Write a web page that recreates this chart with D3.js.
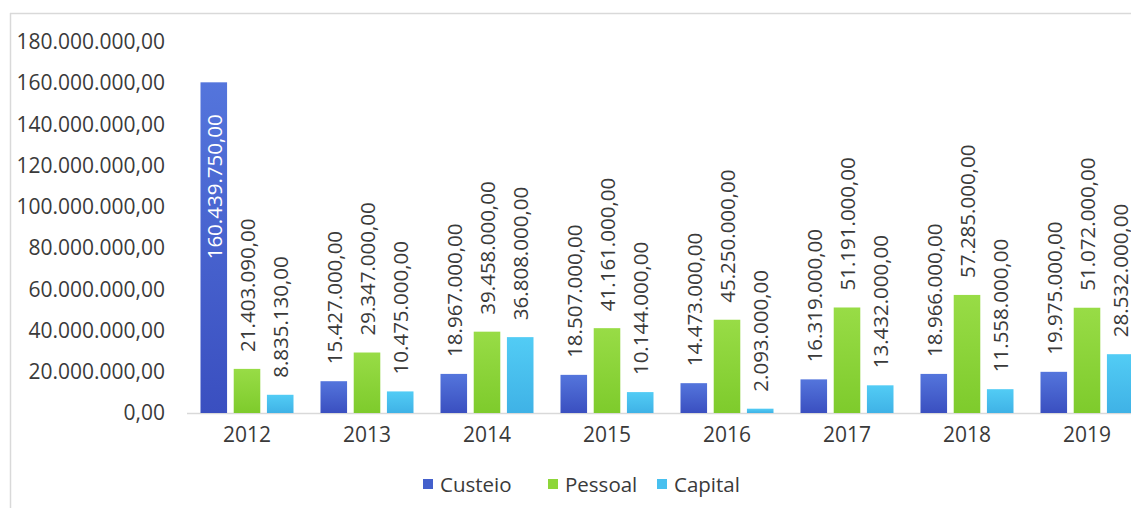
<!DOCTYPE html>
<html><head><meta charset="utf-8">
<script src="https://cdn.jsdelivr.net/npm/d3@7"></script>
<style>body{margin:0;background:#fff}svg{display:block}</style>
</head><body>
<svg id="c" width="1131" height="508"></svg>
<script>
const years = ["2012","2013","2014","2015","2016","2017","2018","2019"];
const seriesNames = ["Custeio","Pessoal","Capital"];
const custeio = [160439750,15427000,18967000,18507000,14473000,16319000,18966000,19975000];
const pessoal = [21403090,29347000,39458000,41161000,45250000,51191000,57285000,51072000];
const capital = [8835130,10475000,36808000,10144000,2093000,13432000,11558000,28532000];
const yTicks = [0,20000000,40000000,60000000,80000000,100000000,120000000,140000000,160000000,180000000];

const values = {Custeio: custeio, Pessoal: pessoal, Capital: capital};
const colors = {
  Custeio: ["#5475dc", "#3a4fc0"],
  Pessoal: ["#98dc46", "#7ecb2c"],
  Capital: ["#52ccf5", "#3fb2e6"]
};
const legendColors = {Custeio:"#4460cc", Pessoal:"#8ed63a", Capital:"#48c0ef"};

const fmt = v => {
  const s = Math.round(v).toString().replace(/\B(?=(\d{3})+(?!\d))/g, ".");
  return s + ",00";
};

const svg = d3.select("#c");
const font = "'Open Sans', sans-serif";
const txt = "#3a3a3a";

const defs = svg.append("defs");
seriesNames.forEach(n => {
  const g = defs.append("linearGradient").attr("id","g"+n).attr("x1",0).attr("x2",0).attr("y1",0).attr("y2",1);
  g.append("stop").attr("offset","0%").attr("stop-color",colors[n][0]);
  g.append("stop").attr("offset","100%").attr("stop-color",colors[n][1]);
});

// frame
svg.append("line").attr("x1",10).attr("x2",1131).attr("y1",13.5).attr("y2",13.5).attr("stroke","#d9d9d9").attr("stroke-width",1.5);
svg.append("line").attr("x1",10.5).attr("x2",10.5).attr("y1",13).attr("y2",508).attr("stroke","#d9d9d9").attr("stroke-width",1.5);

const y = d3.scaleLinear().domain([0,180000000]).range([413,42]);
const x0 = d3.scaleBand().domain(years).range([187,1147]);
const x1 = d3.scaleBand().domain(seriesNames).range([13.5,106.5]).paddingInner(0.2);

// y axis labels
const yAxis = d3.axisLeft(y).tickValues(yTicks).tickFormat(fmt).tickSize(0).tickPadding(0);
const ya = svg.append("g").attr("transform","translate(165,0)").call(yAxis);
ya.select(".domain").remove();
ya.selectAll("text").attr("font-family",font).attr("font-size",21).attr("fill",txt);

// baseline
svg.append("line").attr("x1",187).attr("x2",1131).attr("y1",413.5).attr("y2",413.5).attr("stroke","#d9d9d9").attr("stroke-width",1.5);

// bars
const groups = svg.append("g").selectAll("g").data(years).join("g")
  .attr("transform", d => `translate(${x0(d)},0)`);

groups.each(function(yr, i){
  const g = d3.select(this);
  seriesNames.forEach(n => {
    const v = values[n][i];
    const bx = x1(n), bw = x1.bandwidth();
    g.append("rect").attr("x",bx).attr("width",bw).attr("y",y(v)).attr("height",y(0)-y(v))
      .attr("fill",`url(#g${n})`);
    const cx = bx + bw/2;
    const inside = (y(0)-y(v)) > 250;
    const ty = inside ? y(v) + 32 : y(v) - 17;
    g.append("text").attr("transform",`translate(${cx},${ty}) rotate(-90)`)
      .attr("text-anchor", inside ? "end" : "start")
      .attr("dominant-baseline","central")
      .attr("font-family",font).attr("font-size",20.5)
      .attr("fill", inside ? "#ffffff" : txt)
      .text(fmt(v));
  });
});

// x axis labels
const xAxis = d3.axisBottom(x0).tickSize(0).tickPadding(0);
const xa = svg.append("g").attr("transform","translate(0,427)").call(xAxis);
xa.select(".domain").remove();
xa.selectAll("text").attr("font-family",font).attr("font-size",21).attr("fill",txt);

// legend
const legX = {Custeio:423, Pessoal:548, Capital:657};
const leg = svg.append("g");
seriesNames.forEach(n => {
  leg.append("rect").attr("x",legX[n]).attr("y",479).attr("width",10).attr("height",10).attr("fill",legendColors[n]);
  leg.append("text").attr("x",legX[n]+17).attr("y",484).attr("dominant-baseline","central")
    .attr("font-family",font).attr("font-size",20.5).attr("fill",txt).text(n);
});
</script>
</body></html>
